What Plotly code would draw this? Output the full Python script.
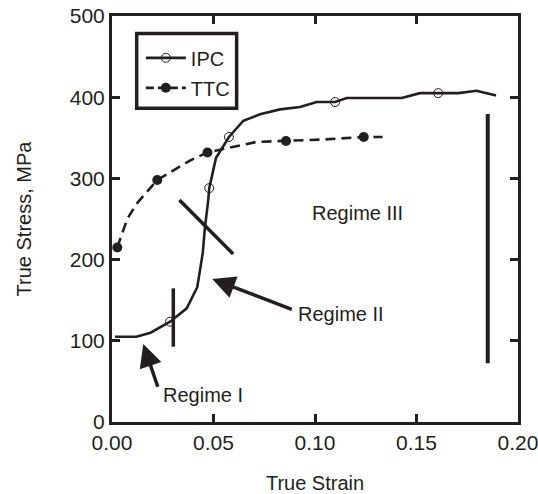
import plotly.graph_objects as go

# IPC curve
ipc_strain = [0.0015, 0.012, 0.019, 0.0286, 0.0368, 0.042, 0.0447, 0.0458, 0.0474, 0.0479,
              0.0512, 0.0576, 0.0647, 0.0729, 0.0828, 0.0926, 0.1008, 0.1099, 0.1156,
              0.1427, 0.1517, 0.1607, 0.1706, 0.1796, 0.1892]
ipc_stress = [105, 105, 110, 123.5, 140, 166, 208, 240, 273, 288,
              325, 351, 371, 379, 385, 388, 394, 394, 399,
              399, 405, 405, 405, 408, 402]
ipc_mark_strain = [0.0286, 0.0479, 0.0576, 0.1099, 0.1607]
ipc_mark_stress = [123.5, 288, 351, 394, 405]

# TTC curve
ttc_strain = [0.0026, 0.0048, 0.0075, 0.0122, 0.0223, 0.0384, 0.047, 0.0713, 0.0857, 0.105, 0.124, 0.1333]
ttc_stress = [215, 231, 250, 269, 298, 322, 332, 345, 346, 348, 351, 351]
ttc_mark_strain = [0.0026, 0.0223, 0.047, 0.0857, 0.124]
ttc_mark_stress = [215, 298, 332, 346, 351]

x_ticks = [0, 0.05, 0.10, 0.15, 0.20]
y_ticks = [0, 100, 200, 300, 400, 500]

INK = "#231f20"
FONT = "Liberation Sans, Arial, sans-serif"

fig = go.Figure()
fig.add_trace(go.Scatter(x=ipc_strain, y=ipc_stress, mode="lines",
                         line=dict(color=INK, width=2.6), showlegend=False, hoverinfo="skip"))
fig.add_trace(go.Scatter(x=ipc_mark_strain, y=ipc_mark_stress, mode="markers",
                         marker=dict(symbol="circle-open", size=9, color=INK, line=dict(width=1)),
                         showlegend=False))
fig.add_trace(go.Scatter(x=ttc_strain, y=ttc_stress, mode="lines",
                         line=dict(color=INK, width=2.6, dash="10px,6px"), showlegend=False, hoverinfo="skip"))
fig.add_trace(go.Scatter(x=ttc_mark_strain, y=ttc_mark_stress, mode="markers",
                         marker=dict(symbol="circle", size=10, color=INK),
                         showlegend=False))
# legend entries
fig.add_trace(go.Scatter(x=[None], y=[None], mode="lines+markers", name="IPC", legendgroup="a",
                         line=dict(color=INK, width=2.6),
                         marker=dict(symbol="circle-open", size=9, color=INK, line=dict(width=1))))
fig.add_trace(go.Scatter(x=[None], y=[None], mode="lines+markers", name="TTC", legendgroup="b",
                         line=dict(color=INK, width=2.6, dash="8px,4px"),
                         marker=dict(symbol="circle", size=10, color=INK)))

shape_line = dict(color=INK, width=3.5)
fig.add_shape(type="line", x0=0.0302, x1=0.0302, y0=92.7, y1=164.6, xref="x", yref="y", line=shape_line)
fig.add_shape(type="line", x0=0.0332, x1=0.0597, y0=273.4, y1=206.9, xref="x", yref="y", line=shape_line)
fig.add_shape(type="line", x0=0.1851, x1=0.1851, y0=72.3, y1=379.3, xref="x", yref="y",
              line=dict(color=INK, width=4))
# legend frame
fig.add_shape(type="rect", x0=0.0608, x1=0.307, y0=0.7727, y1=0.957, xref="paper", yref="paper",
              line=dict(color=INK, width=3.5))

txt = dict(family=FONT, size=20, color=INK)
fig.add_annotation(x=0.1207, y=257, text="Regime III", showarrow=False, font=txt, xref="x", yref="y")
fig.add_annotation(x=0.1128, y=133, text="Regime II", showarrow=False, font=txt, xref="x", yref="y")
fig.add_annotation(x=0.0448, y=33, text="Regime I", showarrow=False, font=txt, xref="x", yref="y")

arrow = dict(showarrow=True, arrowhead=2, arrowwidth=3.5, arrowsize=1.3, arrowcolor=INK,
             text="", xref="x", yref="y", axref="x", ayref="y")
fig.add_annotation(x=0.0494, y=176, ax=0.0893, ay=138, **arrow)
fig.add_annotation(x=0.0154, y=96, ax=0.0228, ay=41.5, **arrow)

axis_common = dict(showline=True, linewidth=3, linecolor=INK, mirror="ticks",
                   ticks="inside", ticklen=8, tickwidth=3, tickcolor=INK,
                   showgrid=False, zeroline=False, automargin=False,
                   ticklabeloverflow="allow",
                   tickfont=dict(family=FONT, size=21, color=INK))

fig.update_xaxes(range=[0, 0.2], tickvals=x_ticks, tickformat=".2f",
                 title=dict(text="True Strain", font=dict(family=FONT, size=20, color=INK), standoff=24),
                 **axis_common)
fig.update_yaxes(range=[0, 500], tickvals=y_ticks,
                 title=dict(text="True Stress, MPa", font=dict(family=FONT, size=20, color=INK), standoff=33),
                 **axis_common)

fig.update_layout(
    width=538, height=494,
    margin=dict(l=112, r=20, t=16, b=72),
    paper_bgcolor="white", plot_bgcolor="white",
    font=dict(family=FONT, color=INK),
    legend=dict(x=0.071, y=0.945, xanchor="left", yanchor="top",
                borderwidth=0, bgcolor="rgba(0,0,0,0)",
                font=dict(family=FONT, size=20, color=INK),
                traceorder="grouped", tracegroupgap=1, itemwidth=40),
)

fig.write_html("out.html")
